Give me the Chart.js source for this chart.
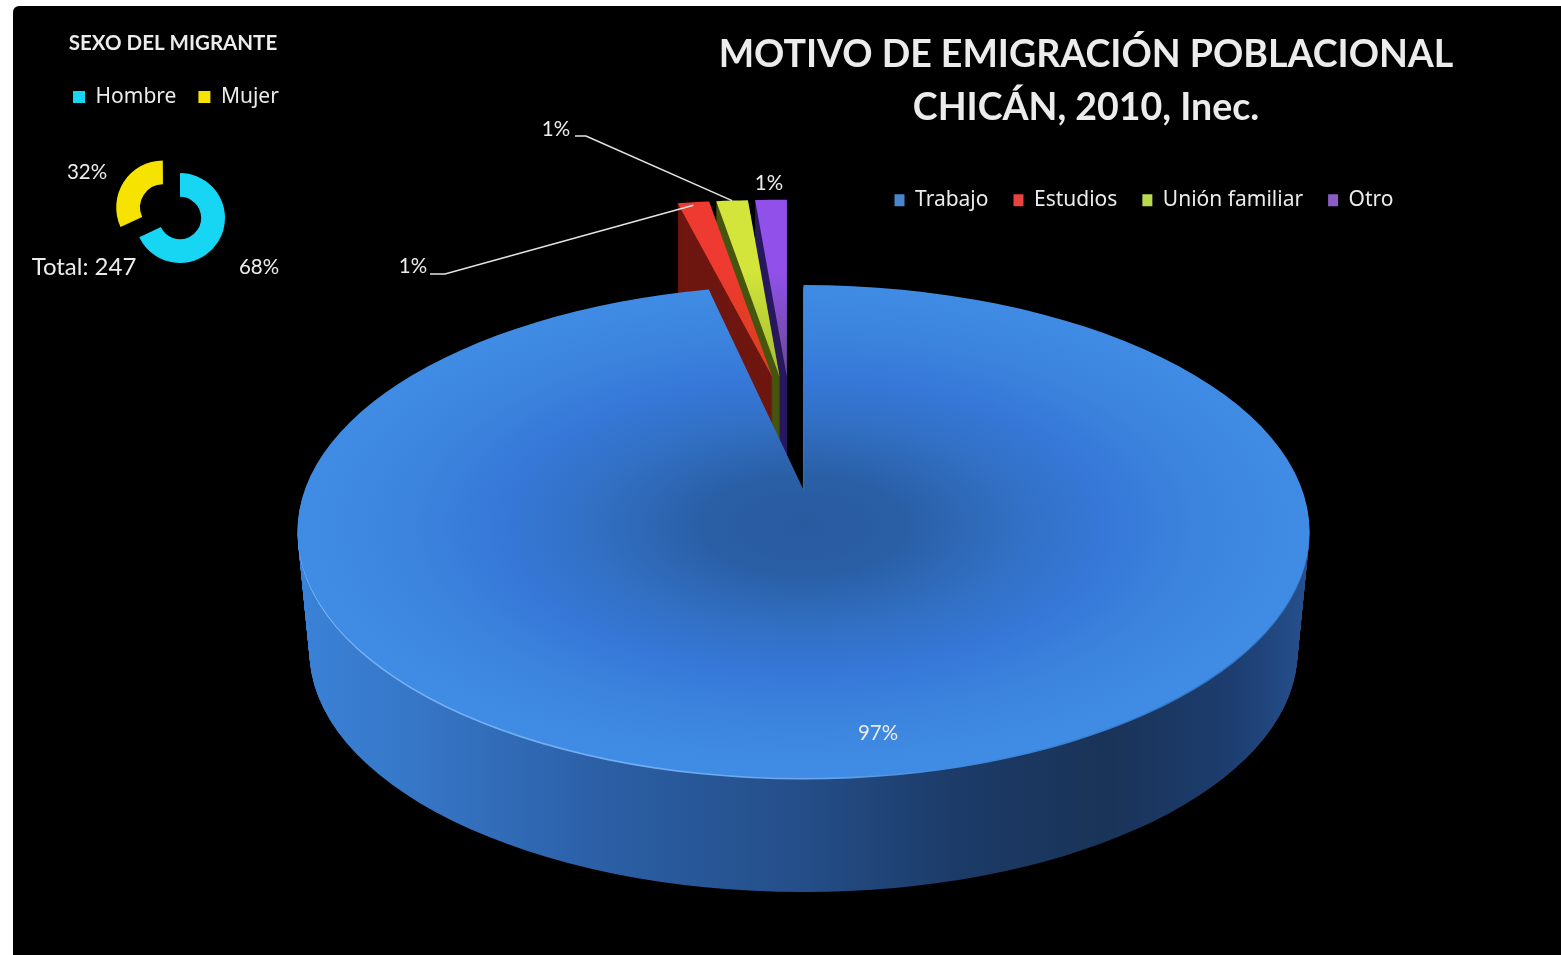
<!DOCTYPE html>
<html lang="es"><head><meta charset="utf-8">
<style>
html,body{margin:0;padding:0;background:#fff;width:1561px;height:955px;overflow:hidden}
#panel{position:absolute;left:13px;top:6px;width:1548px;height:949px;background:#000;border-radius:6px 0 0 0}
canvas{position:absolute;left:0;top:0}
</style>
<script src="https://cdn.jsdelivr.net/npm/chart.js@4"></script>
</head><body>
<div id="panel"></div>
<canvas id="main" width="1561" height="955"></canvas>
<canvas id="inset" width="320" height="300"></canvas>
<script>
const motivoLabels = ['Trabajo', 'Estudios', 'Unión familiar', 'Otro'];
const motivoValues = [97, 1, 1, 1];
const motivoTitle = ['MOTIVO DE EMIGRACIÓN POBLACIONAL', 'CHICÁN, 2010, Inec.'];
const motivoSwatches = ['#4a86cc', '#e5443f', '#b9d94f', '#8a5cc4'];
const sexoLabels = ['Hombre', 'Mujer'];
const sexoValues = [68, 32];
const sexoTotal = 247;
const sexoTitle = 'SEXO DEL MIGRANTE';
const sexoColors = ['#16d6f4', '#f6e400'];

const TEXT = '#ececec';
const CX = 803.5, CY = 531.5, RADIUS = 506, K = 0.487, DEPTH = 120, TAPER = 12;
const APEX_LIFT = 41;
// pulled-out wedges
const PULL = 115, PULL_K = 0.35, PULL_Y = 417, PULL_X = -13, PULL_DEPTH = 115;
const topStops = [['#d8401c', '#ee3a30'], ['#a5c030', '#d3e53a'], ['#6a4a9a', '#9250ea']];
const wallColors = ['#6e1610', '#47560f', '#2a1a5e'];

function paintArc(arc, ctx, bg, radius) {
  const o = arc.options, R = arc.outerRadius;
  arc.options = Object.assign(Object.create(o), {backgroundColor: bg, borderWidth: 0});
  if (radius !== undefined) arc.outerRadius = radius;
  arc.draw(ctx);
  arc.options = o; arc.outerRadius = R;
}
function squash(ctx, x, y, k) { ctx.translate(x, y); ctx.scale(1, k); }

const pie3d = {
  id: 'pie3d',
  afterLayout(chart) {
    const bottom = 2 * CY, right = 2 * CX;
    chart.chartArea = {left: 0, top: 0, right, bottom, width: right, height: bottom};
    const t = chart.titleBlock, l = chart.legend;
    t.left = 1086 - 450; t.right = 1086 + 450; t.top = 29; t.bottom = 140;
    l.left = 869.5; l.right = 1500; l.top = 164.8; l.bottom = 240;
  },
  beforeDatasetDraw(chart, args) {
    const ctx = chart.ctx, arcs = args.meta.data;
    // pulled-out wedges first, from right to left: they sit behind the large slice
    for (let s = arcs.length - 1; s >= 1; s--) {
      const a = arcs[s];
      const m = (a.startAngle + a.endAngle) / 2;
      const dx = Math.cos(m) * PULL, dy = Math.sin(m) * PULL;
      ctx.save();
      ctx.translate(PULL_X + dx, 0);
      for (let i = PULL_DEPTH; i >= 1; i--) {
        ctx.save();
        squash(ctx, 0, PULL_Y + i, PULL_K);
        ctx.translate(0, dy - CY);
        paintArc(a, ctx, wallColors[s - 1]);
        ctx.restore();
      }
      ctx.save();
      squash(ctx, 0, PULL_Y, PULL_K);
      ctx.translate(0, dy - CY);
      const g = ctx.createRadialGradient(a.x, CY, 0, a.x, CY, RADIUS);
      g.addColorStop(0.05, topStops[s - 1][0]);
      g.addColorStop(0.6, topStops[s - 1][1]);
      g.addColorStop(1, topStops[s - 1][1]);
      paintArc(a, ctx, g);
      ctx.restore();
      ctx.restore();
    }
    // wall of the large slice
    const big = arcs[0];
    const wall = ctx.createLinearGradient(CX - RADIUS, 0, CX + RADIUS, 0);
    [[0, '#3a82d8'], [0.12, '#3676c6'], [0.3, '#2b5fa6'], [0.5, '#244e88'], [0.65, '#1c3b68'],
     [0.8, '#1a3358'], [0.92, '#1c3d6e'], [1, '#26508e']].forEach(p => wall.addColorStop(p[0], p[1]));
    for (let i = DEPTH; i >= 3; i--) {
      ctx.save();
      squash(ctx, 0, CY + i, K);
      ctx.translate(0, -CY);
      paintArc(big, ctx, wall, RADIUS - TAPER * i / DEPTH);
      ctx.restore();
    }
    // thin light rim on the front edge
    const rim = ctx.createLinearGradient(CX - RADIUS, 0, CX + RADIUS, 0);
    rim.addColorStop(0, '#7ab6f2'); rim.addColorStop(0.5, '#6aa8ee');
    rim.addColorStop(0.65, '#3e8ae2'); rim.addColorStop(1, '#2f70bf');
    ctx.save();
    squash(ctx, 0, CY + 1.6, K);
    ctx.translate(0, -CY);
    paintArc(big, ctx, rim);
    ctx.restore();
    // top face
    ctx.save();
    squash(ctx, 0, CY, K);
    ctx.translate(0, -CY);
    const gy = CY - 6 / K;
    const top = ctx.createRadialGradient(CX, gy, 0, CX, gy, RADIUS);
    [[0, '#285a9f'], [0.2, '#2a5fa6'], [0.42, '#3270c4'], [0.6, '#3678d8'], [0.8, '#3c85de'], [1, '#408ce4']]
      .forEach(p => top.addColorStop(p[0], p[1]));
    paintArc(big, ctx, top);
    // perspective moves the visible tip of the gap up: fill below it
    const ex = big.x + Math.cos(big.endAngle) * RADIUS, ey = big.y + Math.sin(big.endAngle) * RADIUS;
    ctx.beginPath();
    ctx.moveTo(big.x + 1, big.y + 2);
    ctx.lineTo(big.x + 1, big.y - APEX_LIFT / K);
    ctx.lineTo(big.x + 0.3, big.y - APEX_LIFT / K);
    ctx.lineTo(ex, ey);
    ctx.lineTo(ex - 2, ey + 4);
    ctx.lineTo(big.x - 3, big.y + 2);
    ctx.closePath();
    ctx.fillStyle = top;
    ctx.fill();
    ctx.restore();
    return false;
  },
  afterDatasetsDraw(chart) {
    const ctx = chart.ctx, arcs = chart.getDatasetMeta(0).data;
    const tip = a => {
      const m = (a.startAngle + a.endAngle) / 2;
      return [a.x + PULL_X + Math.cos(m) * (RADIUS + PULL),
              PULL_Y + Math.sin(m) * (RADIUS + PULL) * PULL_K];
    };
    const pct = motivoValues.map(v => Math.round(v) + '%');
    ctx.save();
    ctx.strokeStyle = '#e4e4e4'; ctx.lineWidth = 1.6;
    const red = tip(arcs[1]), green = tip(arcs[2]);
    ctx.beginPath(); ctx.moveTo(430, 274); ctx.lineTo(445, 274); ctx.lineTo(red[0], red[1] + 3); ctx.stroke();
    ctx.beginPath(); ctx.moveTo(575, 136); ctx.lineTo(586, 136); ctx.lineTo(green[0], green[1]); ctx.stroke();
    ctx.fillStyle = TEXT; ctx.textAlign = 'center'; ctx.textBaseline = 'middle';
    ctx.font = '20.5px Lato';
    ctx.fillText(pct[0], 878, 733);
    ctx.fillText(pct[1], 413, 266);
    ctx.fillText(pct[2], 556, 129);
    ctx.fillText(pct[3], 769, 183);
    ctx.restore();
  }
};

new Chart(document.getElementById('main'), {
  type: 'pie',
  data: {labels: motivoLabels, datasets: [{
    data: motivoValues, backgroundColor: motivoSwatches, borderWidth: 0, clip: false
  }]},
  options: {
    responsive: false, animation: false, radius: RADIUS,
    events: [],
    plugins: {
      tooltip: {enabled: false},
      title: {display: true, text: motivoTitle, color: TEXT, align: 'center', padding: 0,
        font: {family: 'Lato', weight: '700', size: 37.5, lineHeight: 1.4}},
      legend: {display: true, position: 'top', align: 'start',
        labels: {color: TEXT, boxWidth: 10, boxHeight: 12, padding: 25,
          font: {family: 'Noto Sans', size: 21}}}
    }
  },
  plugins: [pie3d]
});

const ringExtras = {
  id: 'ringExtras',
  afterLayout(chart) {
    chart.chartArea = {left: 0, top: 0, right: 360, bottom: 436, width: 360, height: 436};
    const t = chart.titleBlock, l = chart.legend;
    t.left = 23; t.right = 323; t.top = 31.5; t.bottom = 60;
    l.left = 51; l.right = 318; l.top = 64.5; l.bottom = 130;
  },
  afterDatasetsDraw(chart) {
    const ctx = chart.ctx;
    ctx.save();
    ctx.fillStyle = TEXT; ctx.textBaseline = 'middle'; ctx.textAlign = 'center';
    ctx.font = '20.5px Lato';
    ctx.fillText(sexoValues[1] + '%', 87, 172);
    ctx.fillText(sexoValues[0] + '%', 259, 267);
    ctx.font = '24px Lato';
    ctx.fillText('Total: ' + sexoTotal, 84, 267);
    ctx.restore();
  }
};
new Chart(document.getElementById('inset'), {
  type: 'doughnut',
  data: {labels: sexoLabels, datasets: [{
    data: sexoValues, backgroundColor: sexoColors, borderWidth: 0, offset: [0, 80], clip: false
  }]},
  options: {
    responsive: false, animation: false, radius: 45, cutout: '47%',
    events: [],
    plugins: {
      tooltip: {enabled: false},
      title: {display: true, text: sexoTitle, color: TEXT, padding: 0,
        font: {family: 'Lato', weight: '700', size: 20.5, lineHeight: 1.2}},
      legend: {display: true, position: 'top', align: 'start',
        labels: {color: TEXT, boxWidth: 12, boxHeight: 12, padding: 22,
          font: {family: 'Noto Sans', size: 21}}}
    }
  },
  plugins: [ringExtras]
});
</script>
</body></html>
